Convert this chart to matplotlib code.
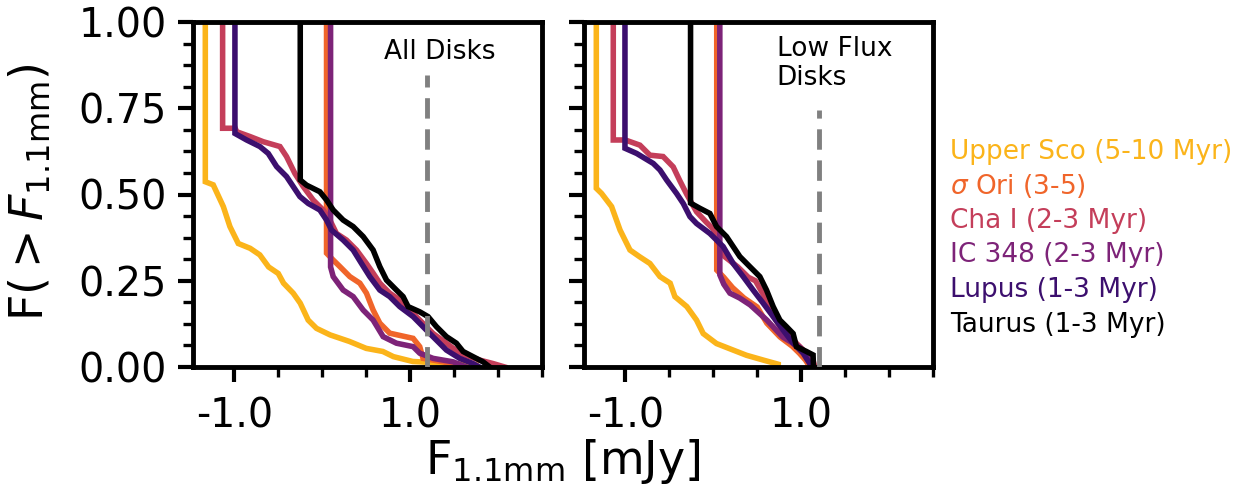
import numpy as np
import matplotlib
matplotlib.use("Agg")
import matplotlib.pyplot as plt
from matplotlib.ticker import MultipleLocator, AutoMinorLocator, FormatStrFormatter

plt.rcParams['font.family'] = ['DejaVu Sans']
plt.rcParams['axes.unicode_minus'] = False
plt.rcParams['mathtext.fontset'] = 'dejavusans'

# ---------------- data (log10 flux, survival fraction) ----------------
labels = ["Upper Sco (5-10 Myr)", r"$\sigma$ Ori (3-5)", "Cha I (2-3 Myr)",
          "IC 348 (2-3 Myr)", "Lupus (1-3 Myr)", "Taurus (1-3 Myr)"]
colors = ["#FBB41A", "#F0652A", "#C43E5A", "#7D2378", "#3C0F6E", "#000000"]

# All disks panel
all_usco_x = [-1.33, -1.33, -1.24, -1.125, -1.05, -0.955, -0.82, -0.71, -0.61, -0.50, -0.44, -0.33,
              -0.25, -0.16, -0.065, 0.09, 0.31, 0.50, 0.69, 0.81, 1.03, 1.75, 1.75]
all_usco_y = [1.0, 0.537, 0.528, 0.465, 0.407, 0.358, 0.344, 0.325, 0.290, 0.271, 0.243, 0.214,
              0.185, 0.136, 0.112, 0.093, 0.074, 0.054, 0.045, 0.030, 0.016, 0.006, 0.0]
all_sori_x = [0.049, 0.049, 0.125, 0.201, 0.314, 0.428, 0.503, 0.579, 0.655, 0.768, 1.034, 1.109,
              1.147, 1.375, 1.602]
all_sori_y = [1.0, 0.330, 0.310, 0.291, 0.262, 0.243, 0.214, 0.165, 0.127, 0.098, 0.083, 0.059,
              0.025, 0.015, 0.0]
all_cha_x = [-1.133, -1.133, -0.99, -0.974, -0.822, -0.671, -0.481, -0.406, -0.311, -0.216, -0.103,
             0.011, 0.087, 0.162, 0.276, 0.390, 0.503, 0.579, 0.655, 0.768, 0.882, 0.996, 1.109,
             1.261, 1.413, 1.564, 1.791, 1.943, 2.076]
all_cha_y = [1.0, 0.692, 0.692, 0.682, 0.668, 0.653, 0.639, 0.610, 0.561, 0.523, 0.484,
             0.455, 0.426, 0.387, 0.368, 0.339, 0.300, 0.272, 0.243, 0.214, 0.194, 0.165, 0.136,
             0.097, 0.069, 0.040, 0.020, 0.010, 0.0]
all_ic_x = [0.095, 0.095, 0.125, 0.238, 0.352, 0.466, 0.579, 0.693, 0.844, 1.034, 1.109, 1.261,
            1.488, 1.64]
all_ic_y = [1.0, 0.29, 0.262, 0.223, 0.204, 0.165, 0.136, 0.088, 0.069, 0.059, 0.040, 0.025,
            0.015, 0.0]
all_lup_x = [-0.993, -0.993, -0.86, -0.709, -0.614, -0.519, -0.406, -0.33, -0.254, -0.159, -0.027,
             0.049, 0.106, 0.238, 0.352, 0.447, 0.541, 0.655, 0.768, 0.882, 1.034, 1.185, 1.299,
             1.413, 1.564, 1.715, 1.79]
all_lup_y = [1.0, 0.677, 0.658, 0.639, 0.619, 0.581, 0.552, 0.523, 0.494, 0.474, 0.455,
             0.426, 0.397, 0.368, 0.339, 0.300, 0.262, 0.223, 0.204, 0.175, 0.146, 0.107, 0.078,
             0.049, 0.025, 0.010, 0.0]
all_tau_x = [-0.25, -0.25, -0.178, -0.027, 0.049, 0.125, 0.238, 0.352, 0.466, 0.579, 0.655, 0.731,
             0.844, 0.920, 0.977, 1.109, 1.204, 1.299, 1.413, 1.526, 1.602, 1.715, 1.829, 1.905]
all_tau_y = [1.0, 0.542, 0.527, 0.508, 0.484, 0.455, 0.426, 0.407, 0.378, 0.339, 0.291, 0.252,
             0.223, 0.204, 0.175, 0.160, 0.146, 0.117, 0.088, 0.069, 0.045, 0.030, 0.015, 0.0]

# Low flux disks panel
low_usco_x = [-1.33, -1.33, -1.27, -1.156, -1.06, -0.947, -0.834, -0.72, -0.606, -0.49, -0.436,
              -0.30, -0.19, -0.114, 0.037, 0.227, 0.378, 0.57, 0.74, 0.74]
low_usco_y = [1.0, 0.518, 0.503, 0.465, 0.397, 0.339, 0.319, 0.300, 0.262, 0.243, 0.204,
              0.175, 0.136, 0.097, 0.068, 0.049, 0.034, 0.020, 0.008, 0.0]
low_sori_x = [0.04, 0.04, 0.12, 0.22, 0.35, 0.50, 0.61, 0.76, 0.90, 0.98, 1.05, 1.10]
low_sori_y = [1.0, 0.281, 0.26, 0.23, 0.20, 0.174, 0.127, 0.087, 0.06, 0.04, 0.02, 0.0]
low_cha_x = [-1.137, -1.137, -1.0, -0.834, -0.72, -0.57, -0.455, -0.38, -0.30, -0.19, -0.08, 0.0,
             0.06, 0.13, 0.28, 0.40, 0.48, 0.57, 0.64, 0.76, 0.87, 0.985, 1.06, 1.136, 1.155]
low_cha_y = [1.0, 0.658, 0.658, 0.643, 0.614, 0.61, 0.58, 0.54, 0.50, 0.45, 0.42, 0.40,
             0.36, 0.32, 0.29, 0.26, 0.25, 0.21, 0.165, 0.117, 0.088, 0.059, 0.04, 0.02, 0.0]
low_ic_x = [0.075, 0.075, 0.12, 0.19, 0.30, 0.42, 0.61, 0.79, 0.98, 1.10, 1.13]
low_ic_y = [1.0, 0.267, 0.24, 0.214, 0.20, 0.18, 0.136, 0.087, 0.058, 0.03, 0.0]
low_lup_x = [-1.004, -1.004, -0.871, -0.682, -0.606, -0.530, -0.417, -0.341, -0.265, -0.190, -0.038,
             0.113, 0.227, 0.341, 0.454, 0.568, 0.682, 0.795, 0.909, 1.023, 1.098, 1.136]
low_lup_y = [1.0, 0.634, 0.619, 0.590, 0.571, 0.542, 0.503, 0.474, 0.436, 0.416, 0.387,
             0.349, 0.300, 0.262, 0.223, 0.185, 0.146, 0.107, 0.069, 0.040, 0.010, 0.0]
low_tau_x = [-0.258, -0.258, -0.152, -0.038, 0.038, 0.151, 0.227, 0.303, 0.416, 0.530, 0.606, 0.682,
             0.758, 0.833, 0.909, 0.947, 1.060, 1.136, 1.14]
low_tau_y = [1.0, 0.475, 0.460, 0.445, 0.407, 0.378, 0.349, 0.320, 0.291, 0.262, 0.223, 0.175,
             0.136, 0.117, 0.097, 0.059, 0.045, 0.035, 0.0]

panel_titles = ["All Disks", "Low Flux\nDisks"]
limit_x = [1.19, 1.20]
limit_top = [0.846, 0.745]
xticks_major = [-1.0, 1.0]

panels = [
    [(all_usco_x, all_usco_y), (all_sori_x, all_sori_y), (all_cha_x, all_cha_y),
     (all_ic_x, all_ic_y), (all_lup_x, all_lup_y), (all_tau_x, all_tau_y)],
    [(low_usco_x, low_usco_y), (low_sori_x, low_sori_y), (low_cha_x, low_cha_y),
     (low_ic_x, low_ic_y), (low_lup_x, low_lup_y), (low_tau_x, low_tau_y)],
]
draw_order = [0, 1, 4, 2, 3, 5]

# ---------------- figure ----------------
W, H = 1243, 496
fig = plt.figure(figsize=(W / 100, H / 100), dpi=100)
axes = [fig.add_axes([193 / W, 1 - 367 / H, 349 / W, 345 / H]),
        fig.add_axes([584 / W, 1 - 367 / H, 349 / W, 345 / H])]

for k, ax in enumerate(axes):
    for i in draw_order:
        xs, ys = panels[k][i]
        ax.plot(xs, ys, color=colors[i], lw=4.0, solid_joinstyle='miter', zorder=2 + i * 0.1)
    ax.plot([limit_x[k], limit_x[k]], [0, limit_top[k]], color='#808080', lw=3.5,
            linestyle=(0, (4.2, 2.2)), zorder=2.55)
    if k == 0:
        ax.text(0.70, 0.913, panel_titles[k], fontsize=19, va='center', ha='left')
    else:
        ax.text(0.72, 0.96, panel_titles[k], fontsize=19, va='top', ha='left', linespacing=1.15)

    ax.set_xlim(-1.47, 2.5)
    ax.set_ylim(0, 1)
    ax.set_xticks(xticks_major)
    ax.xaxis.set_minor_locator(MultipleLocator(0.5))
    ax.xaxis.set_major_formatter(FormatStrFormatter('%.1f'))
    ax.yaxis.set_major_locator(MultipleLocator(0.25))
    ax.yaxis.set_minor_locator(AutoMinorLocator(4))
    ax.yaxis.set_major_formatter(FormatStrFormatter('%.2f'))
    ax.tick_params(which='major', direction='out', length=11, width=3, labelsize=28.5, pad=8)
    ax.tick_params(which='minor', direction='out', length=7, width=2.4)
    ax.tick_params(axis='x', which='major', pad=10)
    for sp in ax.spines.values():
        sp.set_linewidth(3.5)
    if k == 1:
        ax.tick_params(axis='y', labelleft=False)

fig.text(30 / W, 1 - 192 / H, r"F($>F_{1.1\rm mm}$)", rotation=90, fontsize=33,
         ha='center', va='center')
fig.text(563 / W, 1 - 462 / H, r"F$_{1.1\rm mm}$ [mJy]", fontsize=33, ha='center', va='center')

for i, lab in enumerate(labels):
    fig.text(950 / W, 1 - (152 + 34.5 * i) / H, lab, color=colors[i], fontsize=19,
             ha='left', va='center')

fig.savefig("out.png", dpi=100)
